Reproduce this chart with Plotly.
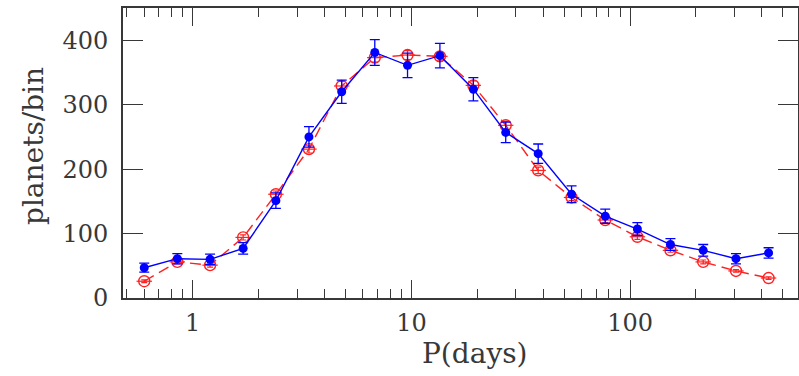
import plotly.graph_objects as go

period_days = [0.6, 0.85, 1.2, 1.7, 2.4, 3.4, 4.8, 6.8, 9.6, 13.5,
               19.2, 27, 38, 54, 77, 108, 153, 216, 305, 430]
observed = [47, 61, 60, 77, 151, 250, 320, 381, 361, 376,
            324, 257, 224, 161, 127, 107, 83, 74, 61, 70]
observed_err = [7, 8, 8, 9, 12, 16, 18, 20, 19, 19,
                18, 16, 15, 13, 11, 10, 9, 9, 8, 8]
model = [26, 56, 51, 94, 161, 231, 329, 373, 377, 375,
         330, 268, 198, 156, 121, 95, 74, 56, 42, 31]
model_err = [2, 3, 3, 4, 5, 6, 7, 7, 7, 7,
             7, 6, 5, 5, 4, 4, 3, 3, 2, 2]

y_ticks = [0, 100, 200, 300, 400]
x_ticks = [1, 10, 100]

BLUE = "#0000ff"
RED = "#ff2020"
INK = "#383838"
FONT = "DejaVu Serif"

fig = go.Figure()

fig.add_trace(go.Scatter(
    x=period_days, y=model, mode="lines+markers",
    line=dict(color=RED, width=1.4, dash="11px,6px"),
    marker=dict(symbol="circle-open", size=11, color=RED, line=dict(width=1.4)),
    error_y=dict(type="data", array=model_err, color=RED, thickness=1.2, width=3),
    showlegend=False,
))
fig.add_trace(go.Scatter(
    x=period_days, y=model, mode="markers",
    marker=dict(symbol="line-ew-open", size=11, color=RED, line=dict(width=1.2, color=RED)),
    showlegend=False, hoverinfo="skip",
))
fig.add_trace(go.Scatter(
    x=period_days, y=observed, mode="lines+markers",
    line=dict(color=BLUE, width=1.4),
    marker=dict(symbol="circle", size=9, color=BLUE),
    error_y=dict(type="data", array=observed_err, color=BLUE, thickness=1.3, width=5),
    showlegend=False,
))

axis_common = dict(
    showline=True, linecolor=INK, linewidth=1.6, mirror="ticks",
    ticks="inside", tickcolor=INK, tickwidth=1.3,
    showgrid=False, zeroline=False, automargin=False,
    tickfont=dict(family=FONT, size=24, color=INK),
)

fig.update_xaxes(
    type="log", range=[-0.319, 2.768],
    tickvals=x_ticks, ticktext=[str(v) for v in x_ticks],
    ticklen=18, ticklabelstandoff=2,
    minor=dict(ticks="inside", dtick="D1", ticklen=9, tickcolor=INK, tickwidth=1.3, showgrid=False),
    **axis_common,
)
fig.update_yaxes(
    range=[0, 450], tickvals=y_ticks, ticklen=20, ticklabelstandoff=8,
    **axis_common,
)

fig.add_annotation(
    text="P(days)", xref="paper", yref="paper", x=0.5215, y=0,
    xanchor="center", yanchor="middle", yshift=-55, showarrow=False,
    font=dict(family=FONT, size=28, color=INK),
)
fig.add_annotation(
    text="planets/bin", xref="paper", yref="paper", x=0, y=0.524,
    xanchor="center", yanchor="middle", xshift=-90, textangle=-90, showarrow=False,
    font=dict(family=FONT, size=28, color=INK),
)

fig.update_layout(
    width=799, height=376,
    margin=dict(l=123, r=1, t=8, b=78, autoexpand=False),
    plot_bgcolor="white", paper_bgcolor="white",
)

fig.write_html("out.html", config={"displayModeBar": False},
               post_script="document.body.style.margin='0';")
